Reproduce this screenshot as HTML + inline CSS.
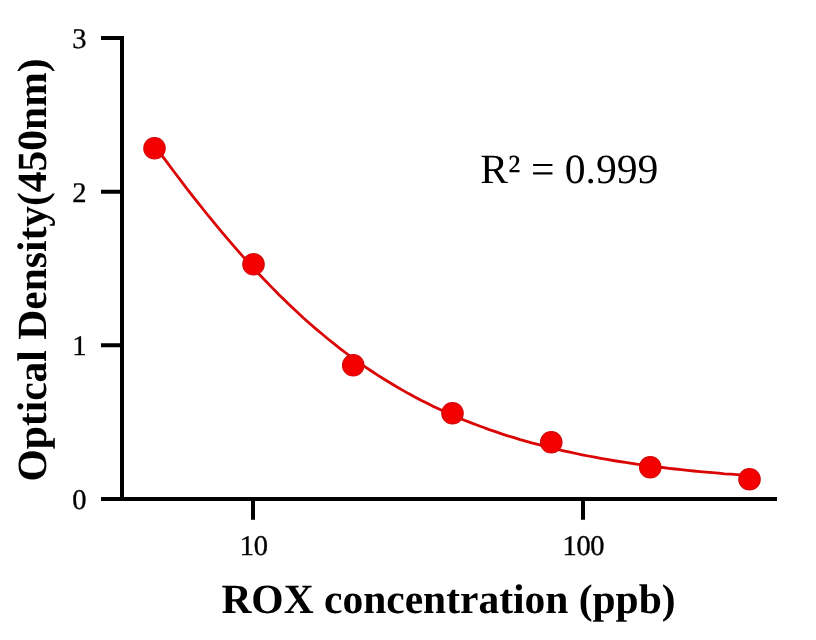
<!DOCTYPE html>
<html><head><meta charset="utf-8"><title>ROX standard curve</title>
<style>
html,body{margin:0;padding:0;background:#fff;}
svg{display:block;will-change:transform;}
text{font-family:"Liberation Serif",serif;fill:#000;text-rendering:geometricPrecision;}
.t{font-size:28.5px;stroke:#000;stroke-width:0.35px;letter-spacing:-0.35px;}
.b{font-weight:bold;font-size:41.5px;}
</style></head><body>
<svg width="816" height="640" viewBox="0 0 816 640">
<rect width="816" height="640" fill="#fff"/>
<g stroke="#000" stroke-width="4" fill="none" stroke-linecap="butt">
<path d="M122,36 V501"/>
<path d="M101,499 H777"/>
<path d="M101,38 H122 M101,191.67 H122 M101,345.33 H122"/>
<path d="M253,499 V519.7 M583,499 V519.7"/>
</g>
<path d="M154.5,145.4 L160.7,153.9 L166.9,162.2 L173.1,170.5 L179.3,178.7 L185.5,186.8 L191.7,194.8 L197.9,202.7 L204.1,210.5 L210.3,218.1 L216.5,225.7 L222.7,233.1 L228.9,240.4 L235.1,247.6 L241.3,254.7 L247.5,261.6 L253.7,268.4 L259.9,275.0 L266.1,281.5 L272.3,287.9 L278.5,294.2 L284.7,300.2 L290.9,306.2 L297.1,312.0 L303.2,317.7 L309.4,323.2 L315.6,328.6 L321.8,333.8 L328.0,339.0 L334.2,343.9 L340.4,348.8 L346.6,353.5 L352.8,358.1 L359.0,362.5 L365.2,366.8 L371.4,371.0 L377.6,375.1 L383.8,379.0 L390.0,382.8 L396.2,386.5 L402.4,390.1 L408.6,393.6 L414.8,396.9 L421.0,400.2 L427.2,403.3 L433.4,406.4 L439.6,409.3 L445.8,412.2 L452.0,414.9 L458.2,417.6 L464.4,420.2 L470.6,422.6 L476.8,425.0 L483.0,427.3 L489.2,429.6 L495.4,431.7 L501.6,433.8 L507.8,435.8 L514.0,437.7 L520.2,439.6 L526.4,441.3 L532.6,443.1 L538.8,444.7 L545.0,446.3 L551.2,447.9 L557.4,449.4 L563.6,450.8 L569.8,452.2 L576.0,453.5 L582.2,454.8 L588.4,456.0 L594.6,457.2 L600.8,458.3 L606.9,459.4 L613.1,460.5 L619.3,461.5 L625.5,462.4 L631.7,463.4 L637.9,464.3 L644.1,465.1 L650.3,466.0 L656.5,466.8 L662.7,467.5 L668.9,468.3 L675.1,469.0 L681.3,469.7 L687.5,470.3 L693.7,471.0 L699.9,471.6 L706.1,472.1 L712.3,472.7 L718.5,473.2 L724.7,473.8 L730.9,474.2 L737.1,474.7 L743.3,475.2 L749.5,475.6" fill="none" stroke="#da0606" stroke-width="2.8" stroke-linejoin="round"/>
<g fill="#f50000" stroke="#d60808" stroke-width="1.2">
<circle cx="154.5" cy="148.25" r="10.7"/>
<circle cx="253.5" cy="264.25" r="10.7"/>
<circle cx="353.25" cy="365.25" r="10.7"/>
<circle cx="452.5" cy="413.25" r="10.7"/>
<circle cx="551.25" cy="442.25" r="10.7"/>
<circle cx="650.25" cy="467.25" r="10.7"/>
<circle cx="749.5" cy="479.25" r="10.7"/>
</g>
<g class="t" text-anchor="end">
<text x="86.2" y="47.7">3</text>
<text x="86.2" y="201.6">2</text>
<text x="86.2" y="355.2">1</text>
<text x="86.2" y="508.8">0</text>
</g>
<g class="t" text-anchor="middle">
<text x="253.7" y="555.3">10</text>
<text x="583.4" y="555.3">100</text>
</g>
<text x="480.3" y="182.7" style="font-size:41.6px">R² = 0.999</text>
<text class="b" x="448.5" y="613" text-anchor="middle">ROX concentration (ppb)</text>
<text class="b" transform="translate(45.8,270) rotate(-90)" text-anchor="middle">Optical Density(450nm)</text>
</svg>
</body></html>
